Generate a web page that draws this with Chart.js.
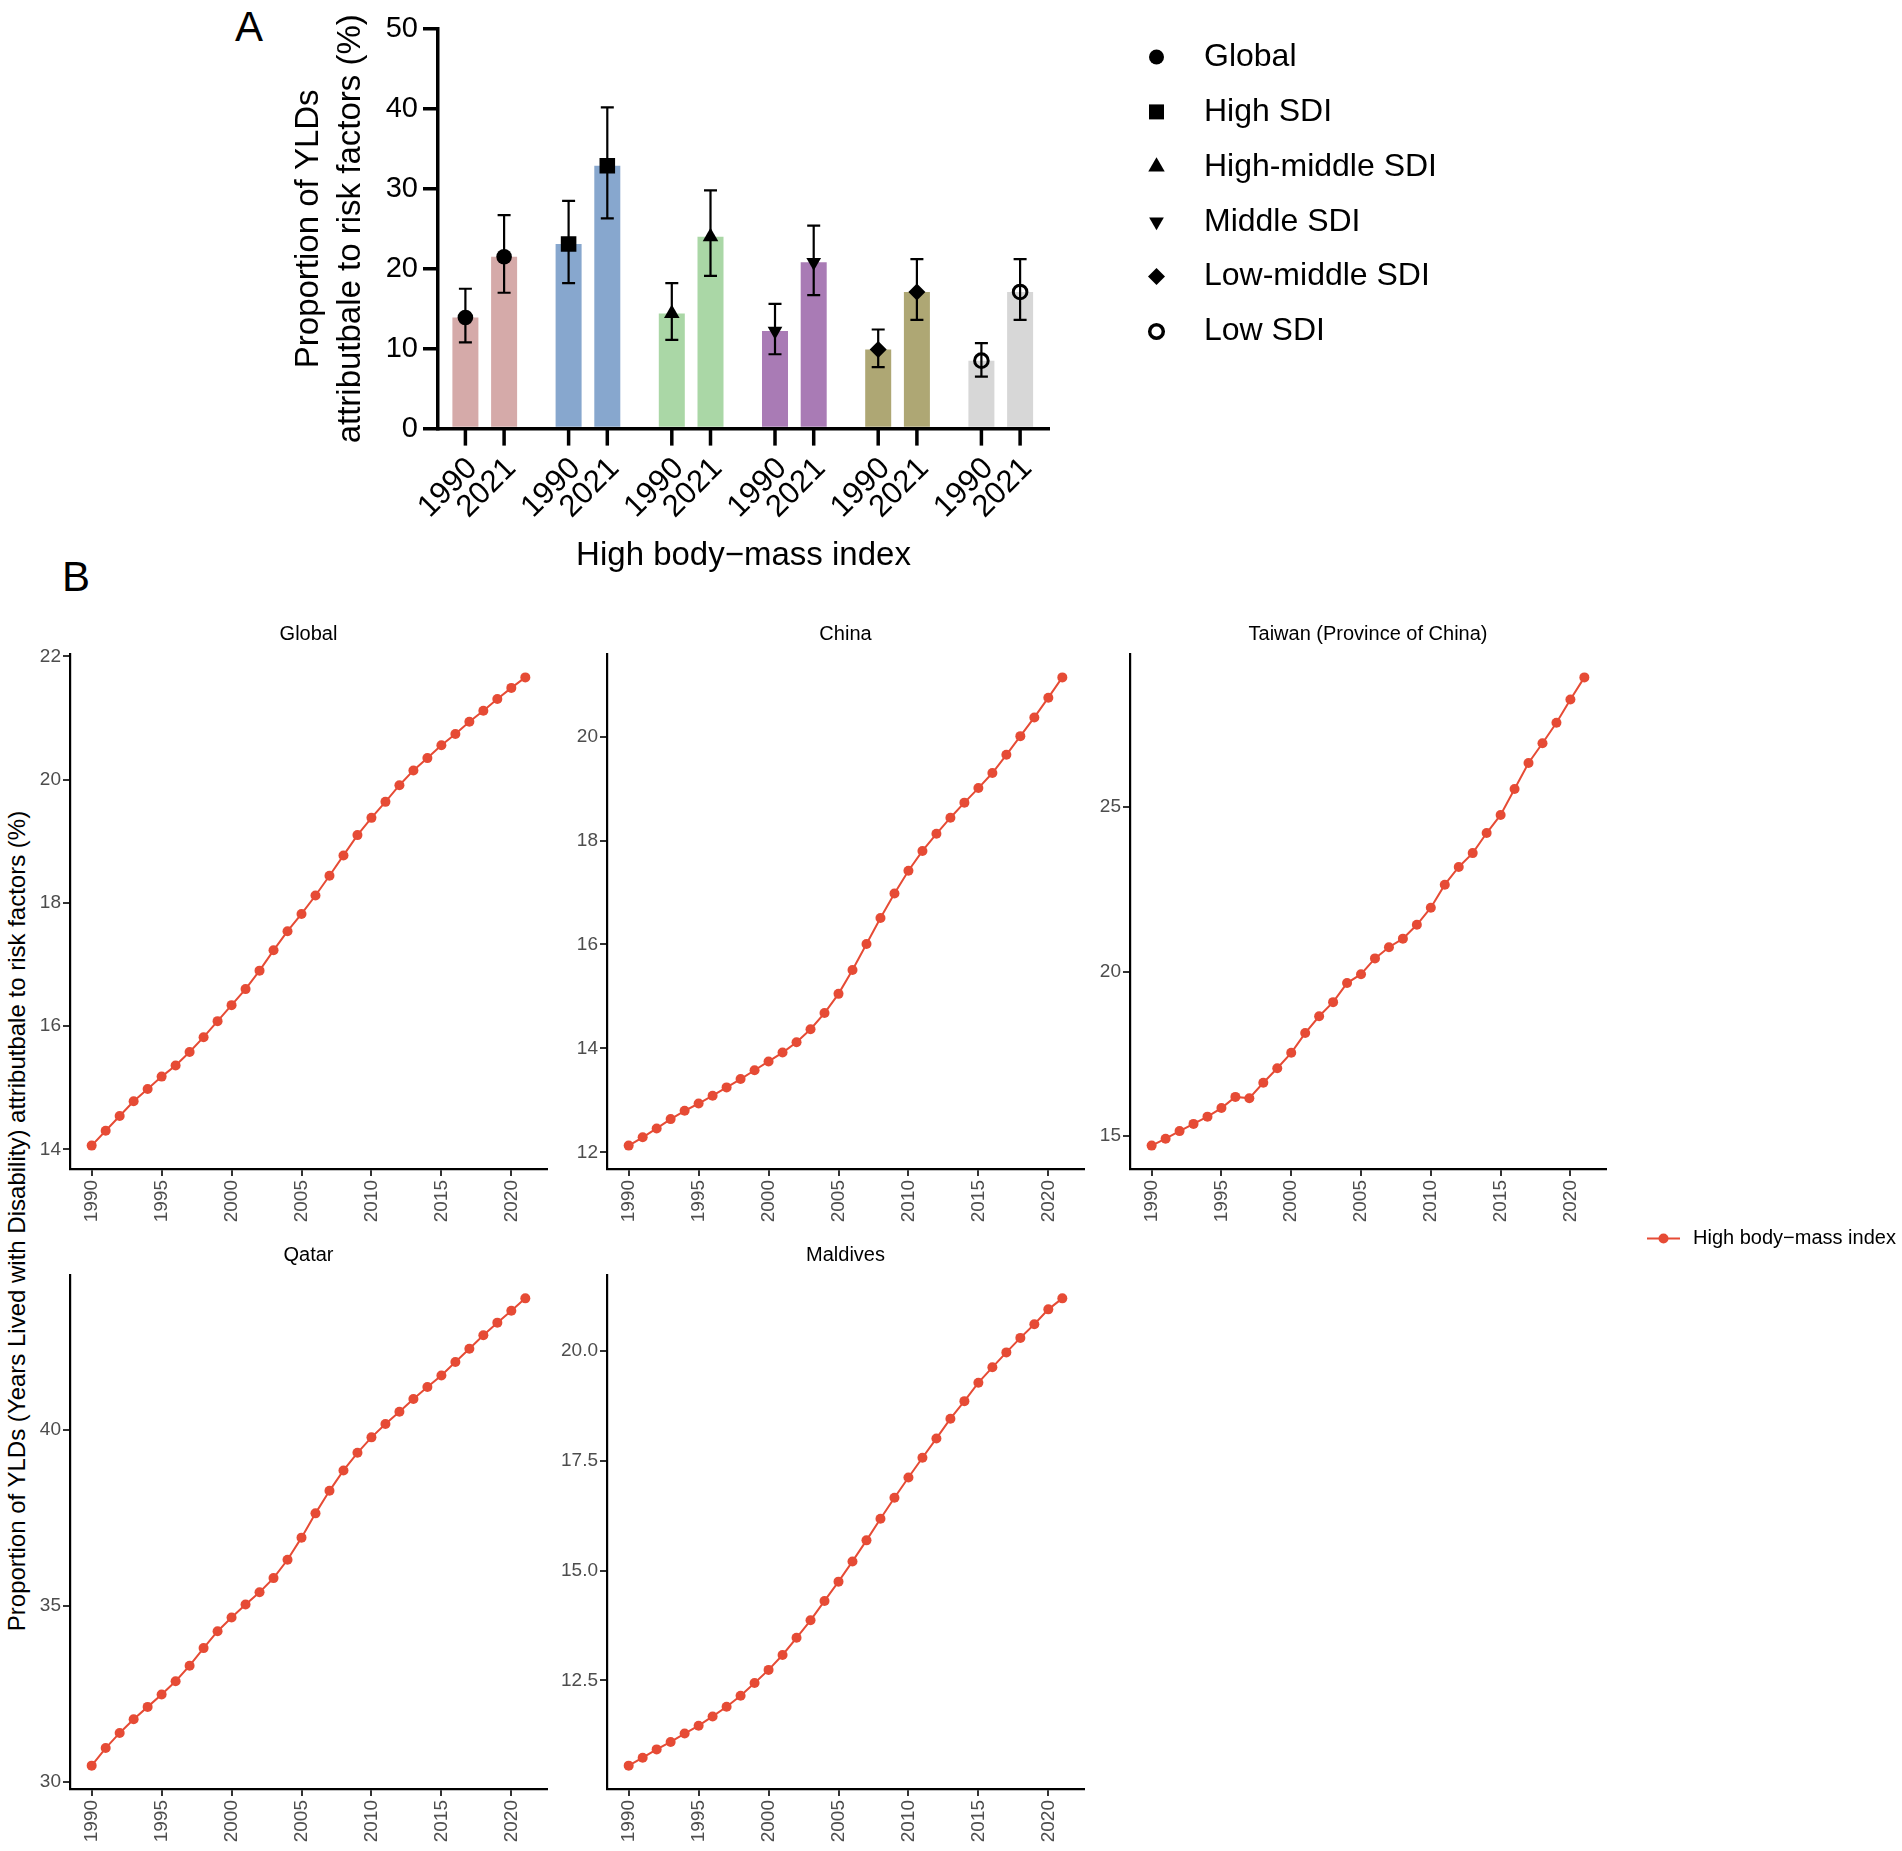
<!DOCTYPE html>
<html>
<head>
<meta charset="utf-8">
<script src="https://cdn.jsdelivr.net/npm/chart.js@4.4.1/dist/chart.umd.min.js"></script>
<style>
  html, body { margin: 0; padding: 0; background: #fff; }
  body { width: 1902px; height: 1851px; position: relative; overflow: hidden;
         font-family: 'Liberation Sans', Arial, Helvetica, sans-serif; color: #000; }
  canvas { position: absolute; }
  .tag { position: absolute; font-size: 42px; line-height: 1; transform: translate(-50%, -50%); }
  #sharedTitle { position: absolute; left: 17px; top: 1221px; font-size: 24px; line-height: 1;
                 white-space: nowrap; transform: translate(-50%, -50%) rotate(-90deg); }
</style>
</head>
<body>
<div class="tag" style="left:249px;top:27px">A</div>
<div class="tag" style="left:76px;top:577px">B</div>
<div id="sharedTitle">Proportion of YLDs (Years Lived with Disability) attributbale to risk factors (%)</div>
<canvas id="panelA" style="left:180px;top:0px" width="1722" height="600"></canvas>

<script>
// ---- Panel A: 1990 vs 2021, by SDI group ----
const groups = ['Global', 'High SDI', 'High-middle SDI', 'Middle SDI', 'Low-middle SDI', 'Low SDI'];
const val1990 = [13.9, 23.1, 14.4, 12.2, 9.9, 8.5];
const low1990 = [10.8, 18.2, 11.1, 9.3, 7.7, 6.5];
const up1990  = [17.5, 28.5, 18.2, 15.6, 12.4, 10.7];
const val2021 = [21.5, 32.9, 24.0, 20.8, 17.1, 17.1];
const low2021 = [17.0, 26.3, 19.1, 16.7, 13.6, 13.6];
const up2021  = [26.7, 40.2, 29.8, 25.4, 21.2, 21.2];

// ---- Panel B: yearly trend, high body-mass index ----
const trendYears = [1990, 1991, 1992, 1993, 1994, 1995, 1996, 1997, 1998, 1999, 2000, 2001, 2002, 2003, 2004, 2005,
                    2006, 2007, 2008, 2009, 2010, 2011, 2012, 2013, 2014, 2015, 2016, 2017, 2018, 2019, 2020, 2021];
const globalVals = [14.06, 14.30, 14.54, 14.78, 14.98, 15.18, 15.36, 15.58, 15.82, 16.08, 16.34, 16.60, 16.90, 17.23, 17.54, 17.82,
                    18.12, 18.44, 18.77, 19.10, 19.38, 19.64, 19.91, 20.15, 20.35, 20.56, 20.74, 20.94, 21.12, 21.31, 21.49, 21.66];
const chinaVals = [12.13, 12.29, 12.46, 12.64, 12.80, 12.94, 13.09, 13.25, 13.41, 13.58, 13.75, 13.92, 14.12, 14.37, 14.68, 15.05,
                   15.51, 16.01, 16.51, 16.98, 17.42, 17.80, 18.13, 18.44, 18.73, 19.01, 19.30, 19.65, 20.01, 20.37, 20.75, 21.14];
const taiwanVals = [14.71, 14.92, 15.15, 15.37, 15.59, 15.85, 16.19, 16.15, 16.62, 17.06, 17.53, 18.13, 18.64, 19.07, 19.65, 19.92,
                    20.40, 20.74, 21.00, 21.42, 21.94, 22.64, 23.18, 23.60, 24.21, 24.76, 25.55, 26.34, 26.94, 27.56, 28.27, 28.94];
const qatarVals = [30.46, 30.96, 31.39, 31.78, 32.13, 32.48, 32.86, 33.30, 33.80, 34.28, 34.67, 35.04, 35.39, 35.79, 36.31, 36.94,
                   37.63, 38.27, 38.85, 39.35, 39.79, 40.17, 40.52, 40.88, 41.22, 41.55, 41.93, 42.31, 42.69, 43.05, 43.39, 43.74];
const maldivesVals = [10.56, 10.74, 10.93, 11.10, 11.29, 11.47, 11.68, 11.90, 12.15, 12.44, 12.74, 13.08, 13.47, 13.87, 14.31, 14.75,
                      15.21, 15.69, 16.18, 16.66, 17.12, 17.57, 18.01, 18.46, 18.86, 19.28, 19.63, 19.97, 20.30, 20.61, 20.95, 21.20];

// styles
const FONT = "'Liberation Sans', Arial, Helvetica, sans-serif";
const RED = '#E64B35';
const groupColors = ['#d5aaa9', '#87a7ce', '#aad7a6', '#a97bb5', '#aea774', '#d7d7d7'];
const markerStyle = ['circle', 'rect', 'triangle', 'triangle', 'rectRot', 'circle'];
const markerRotation = [0, 0, 0, 180, 0, 0];
const markerRadius = [7.8, 11, 9, 8.5, 8.5, 6.8];
const legendRadius = [7.5, 10.6, 9.5, 8.5, 8.5, 6.8];
const markerFill = ['#000', '#000', '#000', '#000', '#000', 'rgba(0,0,0,0)'];
const markerBorder = [0, 0, 0, 0, 0, 3];
const CAT_PCT = 0.75;
const BAR_PCT = 0.672;

Chart.defaults.font.family = FONT;
Chart.defaults.color = '#000';
Chart.defaults.animation = false;
Chart.defaults.responsive = false;
Chart.defaults.events = [];
Chart.defaults.plugins.legend.display = false;
Chart.defaults.plugins.tooltip.enabled = false;

// error bars, year ticks under each bar, and the shape legend
const panelAExtras = {
    id: 'panelAExtras',
    afterDatasetDraw(chart, args) {
        const ds = chart.data.datasets[args.index];
        if (!ds.errLow) return;
        const y = chart.scales.y;
        const ctx = chart.ctx;
        const axisY = chart.chartArea.bottom;
        ctx.save();
        ctx.strokeStyle = '#000';
        ctx.lineWidth = 2.2;
        args.meta.data.forEach((bar, i) => {
            const top = y.getPixelForValue(ds.errHigh[i]);
            const bottom = y.getPixelForValue(ds.errLow[i]);
            ctx.beginPath();
            ctx.moveTo(bar.x, top); ctx.lineTo(bar.x, bottom);
            ctx.moveTo(bar.x - 6.5, top); ctx.lineTo(bar.x + 6.5, top);
            ctx.moveTo(bar.x - 6.5, bottom); ctx.lineTo(bar.x + 6.5, bottom);
            ctx.stroke();
        });
        ctx.lineWidth = 3.5;
        ctx.fillStyle = '#000';
        ctx.font = '31px ' + FONT;
        ctx.textAlign = 'right';
        ctx.textBaseline = 'middle';
        args.meta.data.forEach(bar => {
            ctx.beginPath();
            ctx.moveTo(bar.x, axisY);
            ctx.lineTo(bar.x, axisY + 17);
            ctx.stroke();
            ctx.save();
            ctx.translate(bar.x + 7, axisY + 35);
            ctx.rotate(-Math.PI / 4);
            ctx.fillText(ds.label, 0, 0);
            ctx.restore();
        });
        ctx.restore();
    },
    afterDraw(chart, args, opts) {
        const ctx = chart.ctx;
        ctx.save();
        ctx.font = '32px ' + FONT;
        ctx.textAlign = 'left';
        ctx.textBaseline = 'middle';
        groups.forEach((name, i) => {
            const y = opts.top + i * opts.rowGap;
            ctx.fillStyle = markerFill[i];
            ctx.strokeStyle = '#000';
            ctx.lineWidth = markerBorder[i] ? 3.5 : 0;
            Chart.helpers.drawPoint(ctx, {
                pointStyle: markerStyle[i], rotation: markerRotation[i],
                radius: legendRadius[i], borderWidth: markerBorder[i] ? 3.5 : 0
            }, opts.markerX, y);
            ctx.fillStyle = '#000';
            ctx.fillText(name, opts.textX, y);
        });
        ctx.restore();
    }
};

function barSet(label, values, lo, hi) {
    return {
        type: 'bar', label: label, order: 2,
        data: values.map((v, i) => ({ x: i, y: v })),
        backgroundColor: groupColors, borderWidth: 0,
        barPercentage: BAR_PCT, categoryPercentage: CAT_PCT,
        errLow: lo, errHigh: hi
    };
}
function markerSet(values, shift) {
    return {
        type: 'scatter', order: 0,
        data: values.map((v, i) => ({ x: i + shift, y: v })),
        pointStyle: markerStyle, pointRotation: markerRotation, pointRadius: markerRadius,
        pointBackgroundColor: markerFill, pointBorderColor: '#000', pointBorderWidth: markerBorder
    };
}

new Chart(document.getElementById('panelA'), {
    type: 'bar',
    data: {
        datasets: [
            barSet('1990', val1990, low1990, up1990),
            barSet('2021', val2021, low2021, up2021),
            markerSet(val1990, -CAT_PCT / 4),
            markerSet(val2021, CAT_PCT / 4)
        ]
    },
    options: {
        devicePixelRatio: 1,
        layout: { padding: { top: 29, right: 853, left: 0, bottom: 0 } },
        scales: {
            x: {
                type: 'linear', min: -0.453, max: 5.4675, offset: false,
                ticks: { display: false, stepSize: 1, includeBounds: false },
                grid: { display: false },
                border: { display: true, color: '#000', width: 3.5 },
                title: { display: true, text: 'High body\u2212mass index', color: '#000',
                         font: { size: 33 }, padding: { top: 0, bottom: 24 } },
                afterFit: s => { s.height = 171.4; }
            },
            y: {
                min: 0, max: 50,
                ticks: { stepSize: 10, font: { size: 29 }, color: '#000', padding: 5 },
                grid: { drawOnChartArea: false, drawTicks: true, tickLength: 15, lineWidth: 3.5, color: '#000' },
                border: { color: '#000', width: 3.5 },
                title: { display: true, text: ['Proportion of YLDs', 'attributbale to risk factors (%)'],
                         color: '#000', font: { size: 33, lineHeight: 1.3 }, padding: { top: 107, bottom: 0 } },
                afterFit: s => { s.width = 258; }
            }
        },
        plugins: {
            panelAExtras: { markerX: 976.5, textX: 1024, top: 57, rowGap: 54.9 }
        }
    },
    plugins: [panelAExtras]
});

// ---- Panel B ----
const seriesLegend = {
    id: 'seriesLegend',
    afterDraw(chart, args, opts) {
        const ds = chart.data.datasets[0];
        const ctx = chart.ctx;
        const x0 = chart.chartArea.right + opts.dx;
        const y = chart.chartArea.bottom + opts.dy;
        ctx.save();
        ctx.strokeStyle = ds.borderColor;
        ctx.lineWidth = ds.borderWidth;
        ctx.beginPath();
        ctx.moveTo(x0, y);
        ctx.lineTo(x0 + 33, y);
        ctx.stroke();
        ctx.fillStyle = ds.pointBackgroundColor;
        ctx.beginPath();
        ctx.arc(x0 + 16.5, y, ds.pointRadius, 0, Math.PI * 2);
        ctx.fill();
        ctx.fillStyle = '#000';
        ctx.font = '20px ' + FONT;
        ctx.textAlign = 'left';
        ctx.textBaseline = 'middle';
        ctx.fillText(ds.label, x0 + 46, y);
        ctx.restore();
    }
};

function padRange(values, frac) {
    const lo = Math.min(...values);
    const hi = Math.max(...values);
    const pad = (hi - lo) * frac;
    return { min: lo - pad, max: hi + pad };
}

const Y_W = 70, TITLE_H = 32;
const panels = [
    { title: 'Global', values: globalVals, step: 2, dec: 0, left: 70, right: 547, top: 654, bottom: 1169 },
    { title: 'China', values: chinaVals, step: 2, dec: 0, left: 607, right: 1084, top: 654, bottom: 1169 },
    { title: 'Taiwan (Province of China)', values: taiwanVals, step: 5, dec: 0, left: 1130, right: 1606, top: 654, bottom: 1169, legend: true },
    { title: 'Qatar', values: qatarVals, step: 5, dec: 0, left: 70, right: 547, top: 1275, bottom: 1789 },
    { title: 'Maldives', values: maldivesVals, step: 2.5, dec: 1, left: 607, right: 1084, top: 1275, bottom: 1789 }
];

const xRange = padRange(trendYears, 0.05);

panels.forEach(p => {
    const padR = p.legend ? 1902 - p.right : 10;
    const xH = p.legend ? 93 : 62;
    const canvas = document.createElement('canvas');
    canvas.width = p.right - p.left + Y_W + padR;
    canvas.height = p.bottom - p.top + TITLE_H + xH;
    canvas.style.left = (p.left - Y_W) + 'px';
    canvas.style.top = (p.top - TITLE_H) + 'px';
    document.body.appendChild(canvas);

    const yRange = padRange(p.values, 0.05);
    const axisTicks = { font: { size: 19 }, color: '#4d4d4d', includeBounds: false };
    const axisGrid = { drawOnChartArea: false, drawTicks: true, tickLength: 7, lineWidth: 2, color: '#333' };
    const axisBorder = { color: '#000', width: 2.2 };

    new Chart(canvas, {
        type: 'line',
        data: {
            labels: trendYears,
            datasets: [{
                label: 'High body\u2212mass index',
                data: p.values,
                borderColor: RED, backgroundColor: RED, borderWidth: 2,
                pointBackgroundColor: RED, pointBorderWidth: 0, pointRadius: 5, tension: 0
            }]
        },
        options: {
            devicePixelRatio: 1,
            layout: { padding: { top: 0, left: 0, bottom: 0, right: padR } },
            plugins: {
                title: { display: true, text: p.title, fullSize: false, color: '#000',
                         font: { size: 20, weight: 'normal' }, padding: { top: 0, bottom: 8 } },
                seriesLegend: { dx: 41, dy: 69.5 }
            },
            scales: {
                x: {
                    type: 'linear', min: xRange.min, max: xRange.max,
                    ticks: Object.assign({}, axisTicks, { stepSize: 5, maxRotation: 90, minRotation: 90,
                             autoSkip: false, padding: 4, callback: v => String(v) }),
                    grid: axisGrid,
                    border: axisBorder,
                    afterFit: s => { s.height = xH; }
                },
                y: {
                    min: yRange.min, max: yRange.max,
                    ticks: Object.assign({}, axisTicks, { stepSize: p.step, padding: 2,
                             callback: v => v.toFixed(p.dec) }),
                    grid: axisGrid,
                    border: axisBorder,
                    afterFit: s => { s.width = Y_W; }
                }
            }
        },
        plugins: p.legend ? [seriesLegend] : []
    });
});
</script>
</body>
</html>
